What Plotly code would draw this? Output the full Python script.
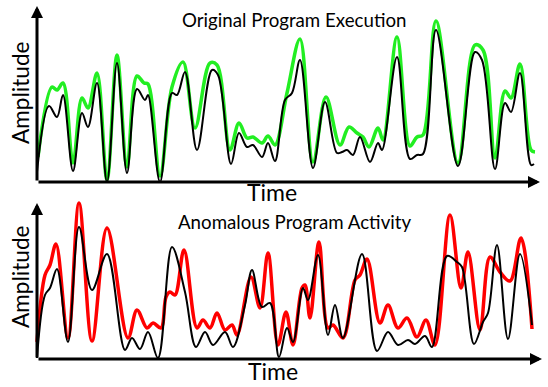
import plotly.graph_objects as go

W, H = 548, 387

# ---- Data (time, amplitude) ----
orig_time = [0, 12, 20, 26, 36, 45, 51, 60, 70, 80, 90, 100, 108, 111, 123, 135, 140, 148, 160, 175,
             181, 194, 202, 210, 216, 225, 231, 238, 248, 255, 263, 276, 288, 300, 305, 310, 316, 323,
             333, 341, 345, 360, 373, 380, 386, 399, 421, 438, 445, 458, 468, 474, 483, 494, 497]
orig_amp = [10, 76, 65, 87, 11, 69, 55, 99, 0, 119, 9, 93, 82, 87, 0, 89, 87, 110, 32, 112,
            107, 18, 49, 35, 37, 25, 39, 21, 82, 89, 122, 14, 80, 29, 30, 32, 27, 45,
            20, 39, 32, 125, 23, 27, 28, 152, 16, 130, 122, 13, 79, 70, 109, 17, 18]

ref_time = [1, 15, 20, 26, 36, 45, 51, 60, 70, 80, 90, 100, 107, 111, 123, 135, 146, 158, 173, 180,
            193, 202, 210, 216, 225, 231, 238, 250, 263, 276, 289, 303, 312, 320, 326, 332, 341, 346,
            360, 373, 380, 386, 399, 421, 438, 446, 458, 468, 474, 483, 494, 498]
ref_amp = [25, 95, 92, 99, 19, 84, 74, 109, 2, 127, 15, 106, 99, 98, 6, 95, 120, 54, 119, 117,
           32, 59, 44, 45, 39, 46, 37, 89, 143, 20, 85, 37, 55, 49, 45, 35, 54, 42,
           145, 36, 45, 47, 161, 19, 137, 132, 24, 91, 84, 118, 32, 30]

base_time = [0, 8, 13, 20, 31, 42, 55, 70, 88, 95, 103, 111, 121, 135, 148, 159, 168, 176, 188, 196,
             208, 215, 225, 233, 242, 250, 256, 266, 271, 281, 291, 298, 306, 325, 340, 351, 361,
             371, 378, 388, 395, 410, 420, 425, 437, 446, 451, 460, 471, 483, 495]
base_amp = [1, 64, 71, 90, 17, 132, 69, 105, 9, 21, 10, 27, 1, 112, 67, 12, 27, 14, 27, 12,
            54, 89, 52, 56, 2, 31, 17, 71, 59, 104, 24, 54, 21, 105, 8, 27, 14,
            19, 15, 23, 12, 103, 97, 92, 15, 37, 46, 114, 20, 105, 34]

anom_time = [0, 8, 13, 19, 31, 42, 55, 70, 91, 100, 110, 116, 124, 129, 133, 138, 147, 160, 166, 173,
             180, 188, 195, 200, 214, 223, 231, 241, 249, 256, 265, 268, 273, 282, 291, 296, 306,
             318, 323, 330, 343, 351, 361, 370, 380, 389, 398, 413, 424, 431, 443, 453, 463, 473,
             484, 495]
anom_amp = [17, 84, 94, 115, 21, 156, 18, 131, 21, 49, 31, 36, 31, 62, 67, 64, 109, 31, 39, 31,
            46, 29, 34, 24, 82, 51, 106, 14, 47, 14, 71, 74, 41, 117, 31, 34, 21,
            79, 84, 100, 36, 54, 31, 41, 22, 39, 14, 144, 71, 107, 29, 102, 87, 78,
            121, 30]

titles = ["Original Program Execution", "Anomalous Program Activity"]
x_label = "Time"
y_label = "Amplitude"

FONT = "Lato, Calibri, Carlito, sans-serif"

fig = go.Figure()

# panel geometry in pixels (axis origin, arrow tips)
top = dict(x0=37, y0=182, xtip=540, ytip=6)
bot = dict(x0=37, y0=359, xtip=542, ytip=203)


def px_dom_x(a, b):
    return [a / W, b / W]


def px_dom_y(top_px, bottom_px):
    return [1 - bottom_px / H, 1 - top_px / H]


fig.update_layout(
    xaxis=dict(domain=px_dom_x(35, 545), range=[-2, 508], visible=False, fixedrange=True),
    yaxis=dict(domain=px_dom_y(2, 184), range=[-2, 180], visible=False, fixedrange=True),
    xaxis2=dict(domain=px_dom_x(35, 545), range=[-2, 508], visible=False, fixedrange=True),
    yaxis2=dict(domain=px_dom_y(199, 361), range=[-2, 160], visible=False, fixedrange=True),
)

fig.add_trace(go.Scatter(x=ref_time, y=ref_amp, mode="lines", xaxis="x", yaxis="y",
                         line=dict(color="#22ee22", width=3.5, shape="spline", smoothing=1.0),
                         hoverinfo="skip"))
fig.add_trace(go.Scatter(x=orig_time, y=orig_amp, mode="lines", xaxis="x", yaxis="y",
                         line=dict(color="#000000", width=2, shape="spline", smoothing=1.0),
                         hoverinfo="skip"))
fig.add_trace(go.Scatter(x=anom_time, y=anom_amp, mode="lines", xaxis="x2", yaxis="y2",
                         line=dict(color="#ff0000", width=3.5, shape="spline", smoothing=1.0),
                         hoverinfo="skip"))
fig.add_trace(go.Scatter(x=base_time, y=base_amp, mode="lines", xaxis="x2", yaxis="y2",
                         line=dict(color="#000000", width=2, shape="spline", smoothing=1.0),
                         hoverinfo="skip"))

annotations = []
for p in (top, bot):
    annotations.append(dict(xref="paper", yref="paper", x=p["x0"] / W, y=1 - p["ytip"] / H,
                            ax=0, ay=p["y0"] - p["ytip"], axref="pixel", ayref="pixel",
                            showarrow=True, arrowhead=2, arrowsize=0.8, arrowwidth=3,
                            arrowcolor="#000000", text=""))
    annotations.append(dict(xref="paper", yref="paper", x=p["xtip"] / W, y=1 - p["y0"] / H,
                            ax=-(p["xtip"] - p["x0"]), ay=0, axref="pixel", ayref="pixel",
                            showarrow=True, arrowhead=2, arrowsize=0.8, arrowwidth=3,
                            arrowcolor="#000000", text=""))


def label(text, xpx, ypx, size, angle=0):
    return dict(xref="paper", yref="paper", x=xpx / W, y=1 - ypx / H, text=text,
                showarrow=False, xanchor="center", yanchor="middle", textangle=angle,
                font=dict(family=FONT, size=size, color="#000000"))


annotations += [
    label(titles[0], 294, 20, 18.7),
    label(titles[1], 294, 222, 18.7),
    label(x_label, 272, 192, 23),
    label(x_label, 273, 371, 23),
    label(y_label, 20, 93, 22.6, -90),
    label(y_label, 20, 277, 22.6, -90),
]

fig.update_layout(
    width=W, height=H, margin=dict(l=0, r=0, t=0, b=0),
    paper_bgcolor="white", plot_bgcolor="rgba(0,0,0,0)",
    showlegend=False, annotations=annotations,
)

fig.write_html("out.html", config={"displayModeBar": False})
